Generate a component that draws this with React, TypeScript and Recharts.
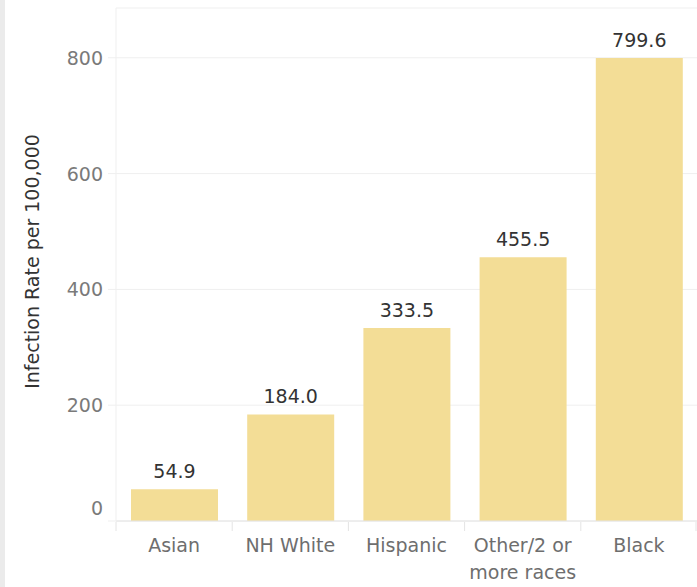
import React from 'react';
import { BarChart, Bar, XAxis, YAxis, CartesianGrid, LabelList } from 'recharts';

// Infection rate per 100,000 by race/ethnicity
const categories = ['Asian', 'NH White', 'Hispanic', 'Other/2 or more races', 'Black'];
const rates = [54.9, 184.0, 333.5, 455.5, 799.6];
const yTicks = [0, 200, 400, 600, 800];

const W = 697;
const H = 587;
const AXIS_W = 116;
const FONT = '"DejaVu Sans", "Noto Sans", sans-serif';
const BAND = (W - AXIS_W) / categories.length;

const data = categories.map((c, i) => ({ name: c, rate: rates[i] }));

function wrap(text: string, max = 11): string[] {
  const lines: string[] = [];
  let cur = '';
  for (const w of text.split(' ')) {
    const next = cur ? cur + ' ' + w : w;
    if (next.length > max && cur) {
      lines.push(cur);
      cur = w;
    } else cur = next;
  }
  if (cur) lines.push(cur);
  return lines;
}

function CatTick(props: any) {
  const { x, y, payload, index } = props;
  const lines = wrap(String(payload.value));
  const left = x - BAND / 2;
  const right = x + BAND / 2;
  return (
    <g>
      <line x1={left} x2={left} y1={y - 7} y2={y + 2} stroke="#e4e4e4" />
      {index === categories.length - 1 && (
        <line x1={right - 1} x2={right - 1} y1={y - 7} y2={y + 2} stroke="#e4e4e4" />
      )}
      {lines.map((l, i) => (
        <text key={i} x={x} y={y + 23 + i * 27} textAnchor="middle" fill="#6e6e6e" fontSize={19} fontFamily={FONT}>
          {l}
        </text>
      ))}
    </g>
  );
}

function ValTick(props: any) {
  const { x, y, payload } = props;
  const dy = payload.value === 0 ? -13 : 0;
  return (
    <text x={x} y={y + dy} dy={7} textAnchor="end" fill="#7a7a7a" fontSize={19} fontFamily={FONT}>
      {payload.value}
    </text>
  );
}

export default function App() {
  return (
    <div style={{ position: 'absolute', left: 0, top: 0, width: W, height: H, background: '#fff' }}>
      <div style={{ position: 'absolute', left: 0, top: 0, width: 5, height: H, background: '#ebebeb' }} />
      <BarChart
        width={W}
        height={H}
        data={data}
        margin={{ top: 8, right: 0, bottom: 6, left: 0 }}
        barSize={87}
      >
        <CartesianGrid vertical={false} stroke="#efefef" />
        <XAxis
          dataKey="name"
          axisLine={{ stroke: '#e4e4e4' }}
          tickLine={false}
          tick={<CatTick />}
          interval={0}
          height={60}
        />
        <YAxis
          width={AXIS_W}
          domain={[0, 886]}
          ticks={yTicks}
          axisLine={{ stroke: '#efefef' }}
          tickLine={{ stroke: '#efefef' }}
          tickSize={8}
          tickMargin={5}
          tick={<ValTick />}
          label={{
            value: 'Infection Rate per 100,000',
            angle: -90,
            position: 'insideLeft',
            offset: 0,
            dx: 32,
            dy: -3,
            fill: '#333',
            fontSize: 19,
            fontFamily: FONT,
            style: { textAnchor: 'middle' },
          }}
        />
        <Bar dataKey="rate" fill="#f3dd96" isAnimationActive={false}>
          <LabelList
            dataKey="rate"
            position="top"
            offset={11}
            formatter={(v: number) => v.toFixed(1)}
            fill="#333"
            fontSize={19}
            fontFamily={FONT}
          />
        </Bar>
      </BarChart>
    </div>
  );
}
